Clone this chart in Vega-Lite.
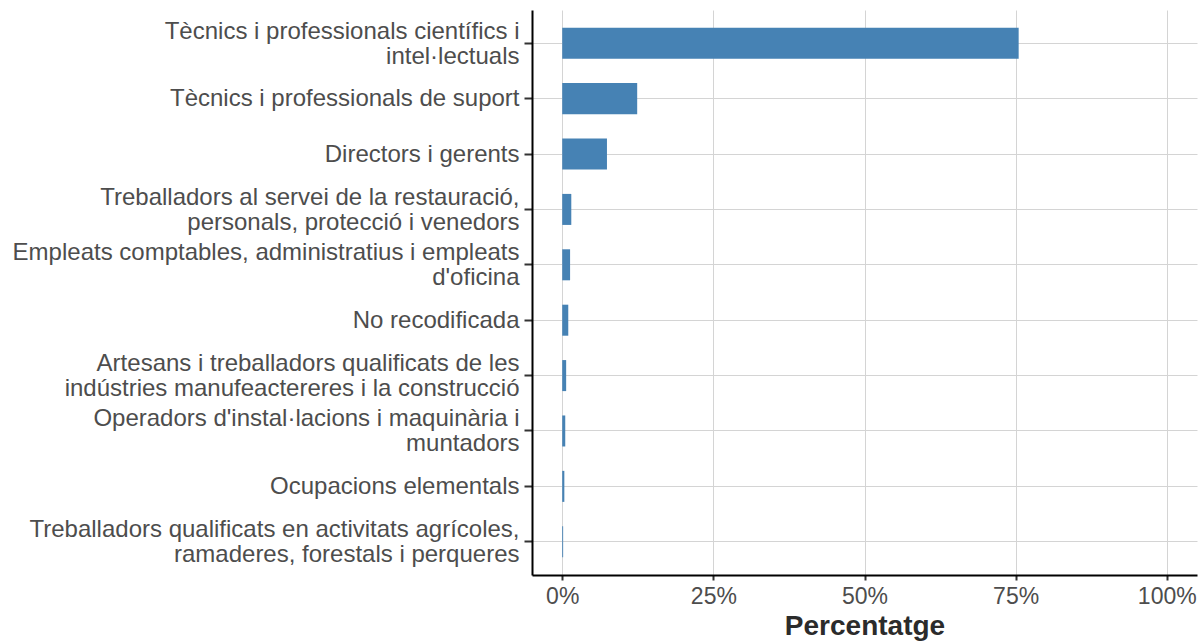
{
  "$schema": "https://vega.github.io/schema/vega-lite/v6.json",
  "width": 665,
  "height": 565,
  "autosize": {"type": "none"},
  "padding": {"left": 532, "top": 10, "right": 6, "bottom": 67},
  "background": "white",
  "config": {
    "view": {"stroke": null},
    "font": "Liberation Sans"
  },
  "data": {
    "values": [
      {"ocupacio": "Tècnics i professionals científics i\nintel·lectuals", "pct": 75.5},
      {"ocupacio": "Tècnics i professionals de suport", "pct": 12.4},
      {"ocupacio": "Directors i gerents", "pct": 7.4},
      {"ocupacio": "Treballadors al servei de la restauració,\npersonals, protecció i venedors", "pct": 1.5},
      {"ocupacio": "Empleats comptables, administratius i empleats\nd'oficina", "pct": 1.3},
      {"ocupacio": "No recodificada", "pct": 1.0},
      {"ocupacio": "Artesans i treballadors qualificats de les\nindústries manufeactereres i la construcció", "pct": 0.65},
      {"ocupacio": "Operadors d'instal·lacions i maquinària i\nmuntadors", "pct": 0.5},
      {"ocupacio": "Ocupacions elementals", "pct": 0.35},
      {"ocupacio": "Treballadors qualificats en activitats agrícoles,\nramaderes, forestals i perqueres", "pct": 0.15}
    ]
  },
  "mark": {"type": "bar", "color": "#4682B4"},
  "encoding": {
    "y": {
      "field": "ocupacio",
      "type": "nominal",
      "sort": "-x",
      "scale": {"paddingInner": 0.44, "paddingOuter": 0.32},
      "axis": {
        "title": null,
        "bandPosition": 0.5,
        "labelExpr": "split(datum.label, '\\n')",
        "labelFont": "Liberation Sans",
        "labelFontSize": 24,
        "labelColor": "#4d4d4d",
        "labelLineHeight": 25,
        "labelOffset": {"condition": {"test": "indexof(datum.value, '\\n') >= 0", "value": -11.5}, "value": 0.5},
        "labelPadding": 5,
        "labelLimit": 600,
        "domainColor": "#000000",
        "domainWidth": 2,
        "tickColor": "#333333",
        "tickWidth": 2,
        "tickSize": 8,
        "grid": true,
        "gridColor": "#d4d4d4",
        "gridWidth": 1
      }
    },
    "x": {
      "field": "pct",
      "type": "quantitative",
      "scale": {"domain": [-5, 105], "nice": false, "zero": false},
      "axis": {
        "title": "Percentatge",
        "titleFont": "Liberation Sans",
        "titleFontSize": 28,
        "titleFontWeight": "bold",
        "titleColor": "#2b2b2b",
        "titlePadding": 4,
        "values": [0, 25, 50, 75, 100],
        "labelExpr": "datum.value + '%'",
        "labelFont": "Liberation Sans",
        "labelFontSize": 23,
        "labelColor": "#4d4d4d",
        "labelPadding": 5,
        "domainColor": "#000000",
        "domainWidth": 2,
        "tickColor": "#333333",
        "tickWidth": 2,
        "tickSize": 5,
        "grid": true,
        "gridColor": "#d4d4d4",
        "gridWidth": 1
      }
    }
  }
}
